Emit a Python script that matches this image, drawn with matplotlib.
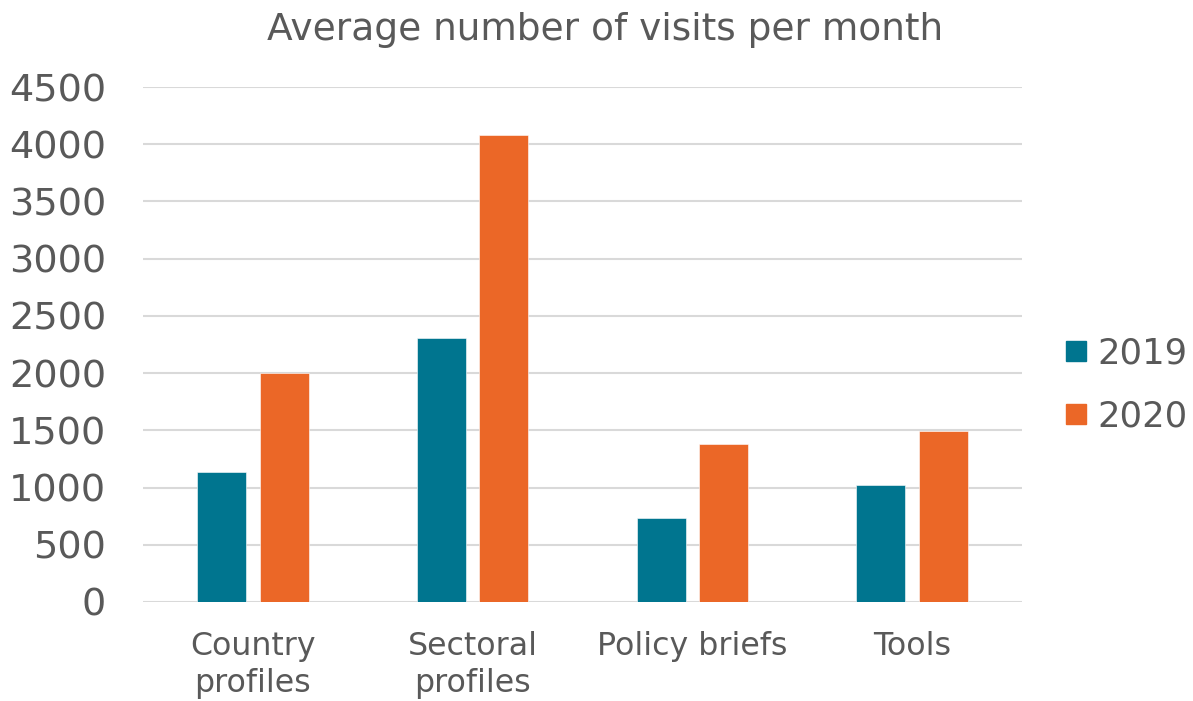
import numpy as np
import matplotlib
matplotlib.use("Agg")
import matplotlib.pyplot as plt
from matplotlib.lines import Line2D

categories = ["Country\nprofiles", "Sectoral\nprofiles", "Policy briefs", "Tools"]
visits_2019 = [1140, 2310, 730, 1020]
visits_2020 = [2000, 4080, 1380, 1490]
yticks = [0, 500, 1000, 1500, 2000, 2500, 3000, 3500, 4000, 4500]

TEAL = "#00758f"
ORANGE = "#eb6727"
GREY = "#595959"

plt.rcParams["font.family"] = ["DejaVu Sans"]

fig = plt.figure(figsize=(11.93, 7.01), dpi=100)
ax = fig.add_axes([143 / 1193, 1 - 602 / 701, (1022 - 143) / 1193, (602 - 87) / 701])

x = np.arange(len(categories))
width = 0.223
off = 0.142
ax.bar(x - off, visits_2019, width, color=TEAL, edgecolor="white", linewidth=0.4, zorder=3)
ax.bar(x + off, visits_2020, width, color=ORANGE, edgecolor="white", linewidth=0.4, zorder=3)

ax.set_xlim(-0.5, len(categories) - 0.5)
ax.set_ylim(0, 4500)
ax.set_yticks(yticks)
ax.set_xticks(x)
ax.set_xticklabels(categories, fontsize=22.8, color=GREY, linespacing=1.25)
ax.tick_params(axis="y", labelsize=27.5, colors=GREY, length=0, pad=26.5)
ax.tick_params(axis="x", length=0, pad=21)
ax.grid(axis="y", color="#d9d9d9", linewidth=1.5, zorder=0)
for s in ax.spines.values():
    s.set_visible(False)

fig.text(605.5 / 1193, 1 - 39.5 / 701, "Average number of visits per month",
         ha="center", va="baseline", fontsize=27, color=GREY)

handles = [Line2D([], [], marker="s", linestyle="", markersize=15, color=c) for c in (TEAL, ORANGE)]
leg = fig.legend(handles, ["2019", "2020"], loc="center left",
                 bbox_to_anchor=(1041 / 1193, 1 - 385 / 701), frameon=False,
                 fontsize=25.5, handletextpad=0.1, labelspacing=0.8,
                 handlelength=1.0, borderpad=0)
for t in leg.get_texts():
    t.set_color(GREY)

fig.savefig("out.png", dpi=100)
